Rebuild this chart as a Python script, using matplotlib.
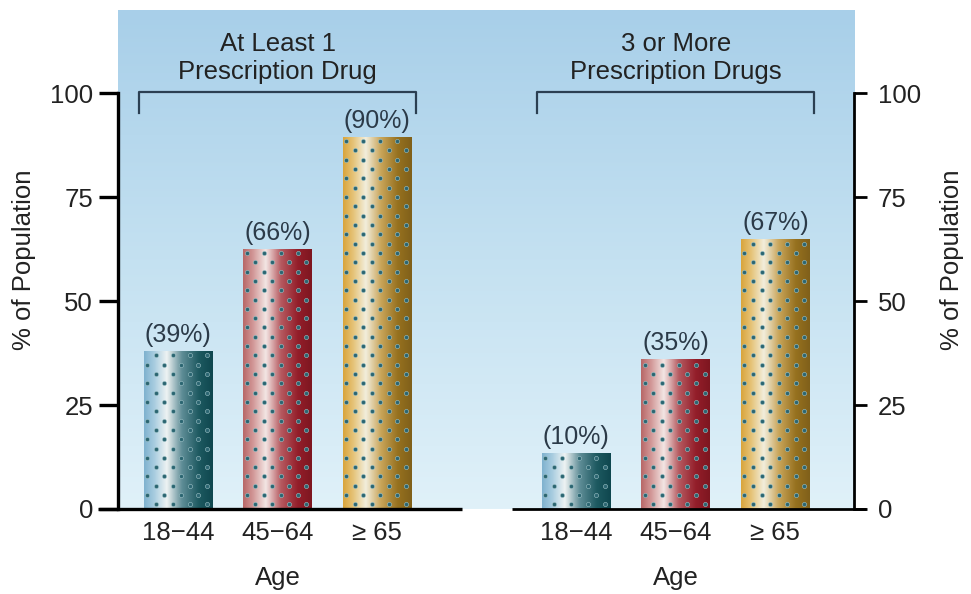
import numpy as np
import matplotlib
matplotlib.use("Agg")
import matplotlib.pyplot as plt
from matplotlib.colors import LinearSegmentedColormap

plt.rcParams['font.family'] = ['Liberation Sans', 'DejaVu Sans']

# data
age_groups = ['18\u221244', '45\u221264', '\u2265 65']
group_titles = ['At Least 1\nPrescription Drug', '3 or More\nPrescription Drugs']
at_least_one = [38, 62.5, 89.5]          # bar heights as drawn
at_least_one_labels = ['(39%)', '(66%)', '(90%)']
three_or_more = [13.5, 36, 65]
three_or_more_labels = ['(10%)', '(35%)', '(67%)']
y_ticks = [0, 25, 50, 75, 100]

# cylinder-like shading for each age group
bar_shades = [
    ['#7fb2cf', '#a9cde0', '#eef3f3', '#5f8d97', '#1d5960', '#0f474f'],
    ['#b86868', '#d39a9a', '#f3e6e4', '#b65a60', '#931e2a', '#7e1620'],
    ['#d9a53c', '#e6c47a', '#f2eedc', '#c9a55a', '#96711f', '#80601a'],
]
shade_pos = [0.0, 0.15, 0.33, 0.55, 0.8, 1.0]
FS = 18.5
TXT = '#222222'

fig = plt.figure(figsize=(9.71, 5.94), dpi=100)
ax = fig.add_axes([0.1215, 0.1431, 0.758, 0.840])

left_x = np.arange(len(age_groups))
right_x = left_x + len(age_groups) + 1
ax.set_xlim(-0.603, 6.79)
ax.set_ylim(0, 120)

# background gradient
grad = np.linspace(0, 1, 256).reshape(-1, 1)
bg_cmap = LinearSegmentedColormap.from_list('bg', ['#a8cfe9', '#c4e1f1', '#e0f1f9'])
ax.imshow(grad, cmap=bg_cmap, extent=[0, 1, 0, 1], transform=ax.transAxes,
          aspect='auto', zorder=0)


def dot_texture(b, dx=0.171, dy=2.24):
    # staggered dot pattern inside a bar
    x0, w, h = b.get_x(), b.get_width(), b.get_height()
    pts = []
    for k, y in enumerate(np.arange(1.1, h - 0.5, dy)):
        start = x0 + 0.035 + (dx / 2 if k % 2 == 0 else 0)
        for x in np.arange(start, x0 + w - 0.02, dx):
            pts.append((x, y))
    return np.array(pts)


width = 0.69
hshade = np.linspace(0, 1, 200).reshape(1, -1)
for xs, vals, labels in [(left_x, at_least_one, at_least_one_labels),
                         (right_x, three_or_more, three_or_more_labels)]:
    bars = ax.bar(xs, vals, width=width, color='none', linewidth=0, zorder=2)
    for i, b in enumerate(bars):
        cm = LinearSegmentedColormap.from_list('s%d' % i, list(zip(shade_pos, bar_shades[i])))
        x0, y0, w, h = b.get_x(), b.get_y(), b.get_width(), b.get_height()
        im = ax.imshow(hshade, cmap=cm, extent=[x0, x0 + w, y0, y0 + h],
                       aspect='auto', zorder=2)
        im.set_clip_path(b)
        pts = dot_texture(b)
        if len(pts):
            sc = ax.scatter(pts[:, 0], pts[:, 1], s=9, color='#2c6672',
                            edgecolors='#9fc3c8', linewidths=0.4, zorder=3)
            sc.set_clip_path(b)
    for b, lab in zip(bars, labels):
        ax.annotate(lab, (b.get_x() + b.get_width() / 2, b.get_height()),
                    xytext=(0, 3), textcoords='offset points', ha='center',
                    va='bottom', fontsize=FS - 0.5, color='#2b3a48')

# brackets and group titles
for xs, title in zip([left_x, right_x], group_titles):
    c = xs.mean()
    ax.plot([c - 1.39, c - 1.39, c + 1.39, c + 1.39], [95.2, 100.3, 100.3, 95.2],
            color='#2b3f52', lw=1.6, zorder=4)
    ax.text(c, 108.5, title, ha='center', va='center', fontsize=FS,
            color=TXT, linespacing=1.2)
    ax.text(c, -16.6, 'Age', ha='center', va='center', fontsize=FS,
            color=TXT, clip_on=False)

# baselines for the two groups
ax.plot([-0.8, left_x[-1] + 0.85], [0, 0], color='black', lw=2.4,
        clip_on=False, zorder=5, solid_capstyle='butt')
ax.plot([right_x[0] - 0.65, 6.91], [0, 0], color='black', lw=2.0,
        clip_on=False, zorder=5, solid_capstyle='butt')

ax.set_xticks(np.concatenate([left_x, right_x]), age_groups * 2)
ax.tick_params(axis='x', length=0, pad=9, labelsize=FS, labelcolor=TXT)

for s in ['top', 'right', 'bottom']:
    ax.spines[s].set_visible(False)
ax.spines['left'].set_bounds(0, 100)
ax.spines['left'].set_linewidth(2.4)
ax.set_yticks(y_ticks)
ax.tick_params(axis='y', length=14, width=2.4, pad=4, labelsize=FS,
               labelcolor=TXT)
ax.set_ylabel('% of Population', fontsize=FS, color=TXT, labelpad=10)

ax2 = ax.twinx()
ax2.set_ylim(0, 120)
for s in ['top', 'left', 'bottom']:
    ax2.spines[s].set_visible(False)
ax2.spines['right'].set_bounds(0, 100)
ax2.spines['right'].set_linewidth(2.0)
ax2.set_yticks(y_ticks)
ax2.tick_params(axis='y', length=9, width=2.0, pad=8, labelsize=FS,
                labelcolor=TXT)
ax2.set_ylabel('% of Population', fontsize=FS, color=TXT,
               rotation=90, labelpad=14)

fig.savefig('out.png', dpi=100)
